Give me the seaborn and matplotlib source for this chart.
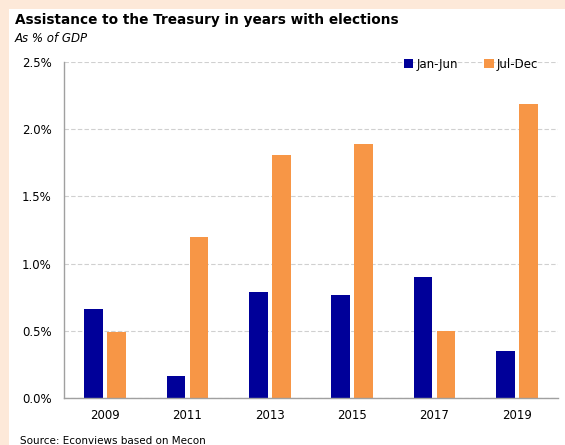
import matplotlib
matplotlib.use("Agg")
import matplotlib.pyplot as plt
from matplotlib.patches import Rectangle
from matplotlib.ticker import FuncFormatter
import seaborn as sns
import pandas as pd

years = ["2009", "2011", "2013", "2015", "2017", "2019"]
jan_jun = [0.66, 0.16, 0.79, 0.77, 0.90, 0.35]
jul_dec = [0.49, 1.20, 1.81, 1.89, 0.50, 2.19]
series = ["Jan-Jun", "Jul-Dec"]
yticks = [0.0, 0.5, 1.0, 1.5, 2.0, 2.5]

df = pd.DataFrame({
    "year": years * 2,
    "value": jan_jun + jul_dec,
    "period": [series[0]] * len(years) + [series[1]] * len(years),
})

sns.set_theme(style="white")
plt.rcParams["font.family"] = ["DejaVu Sans"]
plt.rcParams["text.color"] = "black"

fig = plt.figure(figsize=(5.65, 4.45), dpi=100)
fig.patch.set_facecolor("#FDE9D9")
fig.patches.append(Rectangle((9 / 565, 0), 1, 1 - 9 / 445, transform=fig.transFigure,
                             facecolor="white", edgecolor="none", zorder=0))

ax = fig.add_axes([64 / 565, 1 - 398 / 445, (558 - 64) / 565, (398 - 62) / 445])
ax.set_facecolor("white")
ax.set_zorder(1)

sns.barplot(data=df, x="year", y="value", hue="period", order=years, hue_order=series,
            palette=["#000099", "#F79646"], saturation=1, width=0.56, gap=0.2, ax=ax,
            edgecolor="none", linewidth=0, legend=True)

ax.set_ylim(0, 2.5)
ax.set_xlim(-0.5, len(years) - 0.5)
ax.set_yticks(yticks)
ax.yaxis.set_major_formatter(FuncFormatter(lambda v, p: f"{v:.1f}%"))
ax.grid(axis="y", color="#D0D0D0", linestyle=(0, (4, 2)), linewidth=0.8)
ax.set_axisbelow(True)
for s in ["top", "right"]:
    ax.spines[s].set_visible(False)
for s in ["left", "bottom"]:
    ax.spines[s].set_color("#A0A0A0")
    ax.spines[s].set_linewidth(1.0)
ax.tick_params(axis="both", length=0, labelsize=8.5, colors="black")
ax.tick_params(axis="y", pad=9)
ax.tick_params(axis="x", pad=8)
ax.set_xlabel("")
ax.set_ylabel("")

leg = ax.legend(loc="upper right", bbox_to_anchor=(0.982, 1.045), ncol=2, frameon=False,
                fontsize=8.5, handlelength=0.8, handleheight=0.8, handletextpad=0.3,
                columnspacing=2.2)
for t in leg.get_texts():
    t.set_color("black")

fig.text(15 / 565, 1 - 20 / 445, "Assistance to the Treasury in years with elections",
         fontsize=9.8, fontweight="bold", va="center", ha="left", color="black")
fig.text(15 / 565, 1 - 38 / 445, "As % of GDP", fontsize=8.5, style="italic",
         va="center", ha="left", color="black")
fig.text(20 / 565, 1 - 444 / 445, "Source: Econviews based on Mecon", fontsize=7.5,
         va="baseline", ha="left", color="black")

fig.savefig("out.png", dpi=100)
